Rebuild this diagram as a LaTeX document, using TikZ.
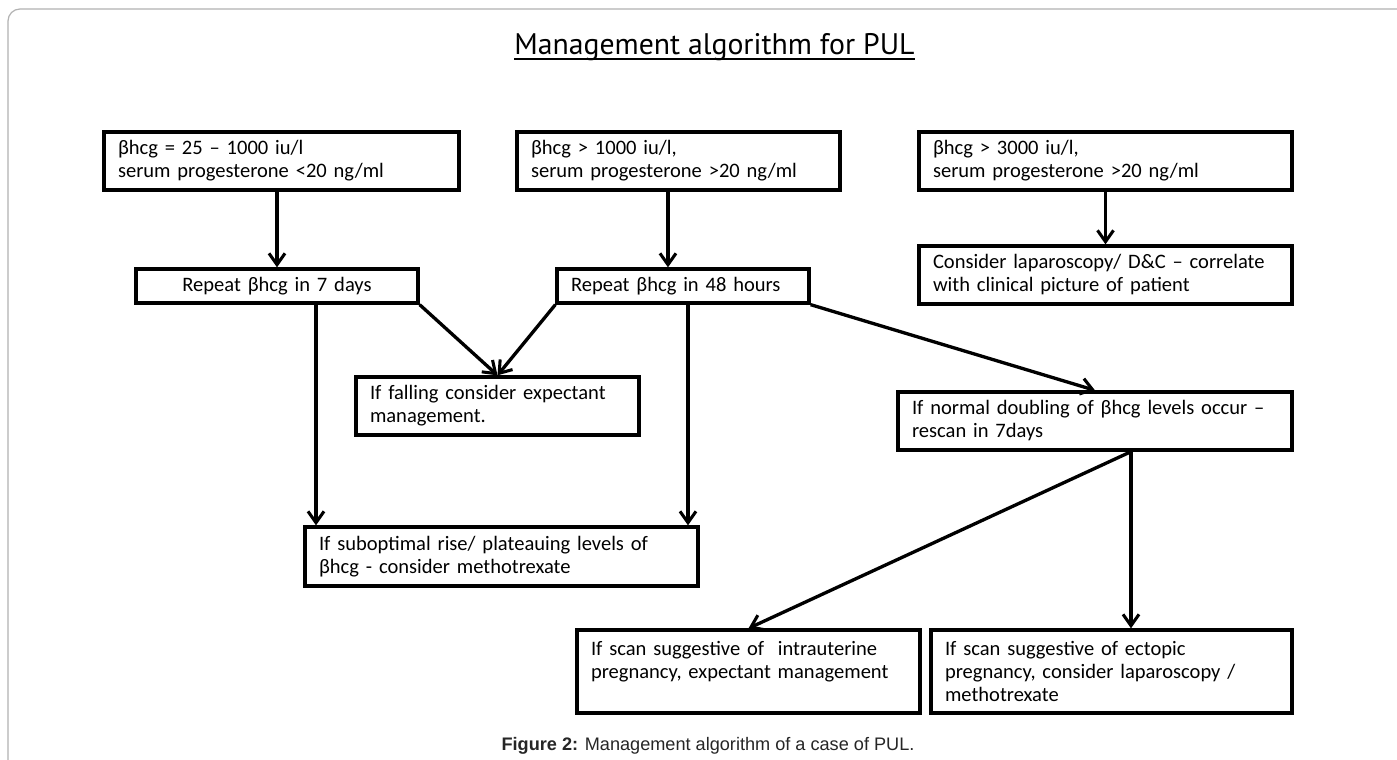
\documentclass[tikz,border=0pt]{standalone}
\usepackage{fontspec}
\setmainfont{Carlito}
\newfontfamily\titlefont{PT Sans}
\newfontfamily\capfont{Liberation Sans}
\usetikzlibrary{arrows.meta}
\begin{document}
\begin{tikzpicture}[x=0.75pt,y=-0.75pt,
  box/.style={draw, line width=2.5pt, rectangle, inner xsep=10.5pt, inner ysep=0pt,
    align=left, font=\fontsize{15.4pt}{17.25pt}\selectfont},
  arr/.style={line width=2.5pt, -{Straight Barb[length=8.5pt,width=12pt,line width=2.3pt]}},
  link/.style={line width=2.5pt}]
\useasboundingbox (0,0) rectangle (1397,760);
\fill[white] (0,0) rectangle (1397,760);
\draw[black!30, line width=0.9pt, rounded corners=9pt] (8,760) |- (1397,9);

% title
\node[font=\titlefont\fontsize{22.3pt}{26pt}\selectfont, anchor=base west, inner sep=0pt] (title) at (514,55) {Management algorithm for PUL};
\draw[line width=1.7pt] ([yshift=-3.2pt]title.base west) -- ([yshift=-3.2pt]title.base east);

% row 1
\node[box, minimum width=266.25pt, text width=245.25pt, minimum height=43.5pt] (A) at (281.5,161)
  {βhcg = 25 – 1000 iu/l\\serum progesterone <20 ng/ml};
\node[box, minimum width=242.25pt, text width=221.25pt, minimum height=43.5pt] (B) at (678.5,161)
  {βhcg > 1000 iu/l,\\serum progesterone >20 ng/ml};
\node[box, minimum width=279.75pt, text width=258.75pt, minimum height=43.5pt] (C) at (1105.5,161)
  {βhcg > 3000 iu/l,\\serum progesterone >20 ng/ml};

% row 2
\node[box, align=center, minimum width=211.5pt, text width=190.5pt, minimum height=25.5pt] (D) at (277,286)
  {Repeat βhcg in 7 days};
\node[box, minimum width=189pt, text width=168pt, minimum height=25.5pt] (E) at (683,286)
  {Repeat βhcg in 48 hours};
\node[box, minimum width=279.75pt, text width=258.75pt, minimum height=43.5pt] (F) at (1105.5,275)
  {Consider laparoscopy/ D\&C – correlate\\with clinical picture of patient};

% row 3
\node[box, minimum width=212.25pt, text width=191.25pt, minimum height=43.5pt] (G) at (497.5,406)
  {If falling consider expectant\\management.};
\node[box, minimum width=295.5pt, text width=274.5pt, minimum height=43.5pt] (H) at (1095,421)
  {If normal doubling of βhcg levels occur –\\rescan in 7days};

% row 4
\node[box, minimum width=294.75pt, text width=273.75pt, minimum height=44.25pt] (I) at (501.5,556.5)
  {If suboptimal rise/ plateauing levels of\\βhcg - consider methotrexate};

% row 5
\node[box, minimum width=257.25pt, text width=236.25pt, minimum height=62.25pt] (J) at (748.5,671.5)
  {If scan suggestive of\ \ intrauterine\\pregnancy, expectant management\\\mbox{}};
\node[box, minimum width=270.75pt, text width=249.75pt, minimum height=62.25pt] (K) at (1111.5,671.5)
  {If scan suggestive of ectopic\\pregnancy, consider laparoscopy /\\methotrexate};

% caption
\node[font=\capfont\fontsize{13.6pt}{16pt}\selectfont, text=black!85] (cap) at (708,746)
  {\textbf{Figure 2:} Management algorithm of a case of PUL.};

% connectors
\draw[arr] (A.south -| D.north) -- (D.north);
\draw[arr] ([xshift=-7.9pt]B.south) -- ([xshift=-7.9pt]B.south |- E.north);
\draw[arr] (C.south) -- (F.north);
\draw[arr] ([xshift=29.25pt]D.south) -- ([xshift=29.25pt]D.south |- I.north);
\draw[arr] (D.south east) -- (G.north);
\draw[arr] (E.south west) -- (G.north);
\draw[arr] ([xshift=3.75pt]E.south) -- ([xshift=3.75pt]E.south |- I.north);
\draw[arr] (E.south east) -- (H.north);
\coordinate (hs) at ([xshift=27pt]H.south);
\draw[arr] (hs) -- (J.north);
\draw[arr] (hs) -- (hs |- K.north);
\end{tikzpicture}
\end{document}
